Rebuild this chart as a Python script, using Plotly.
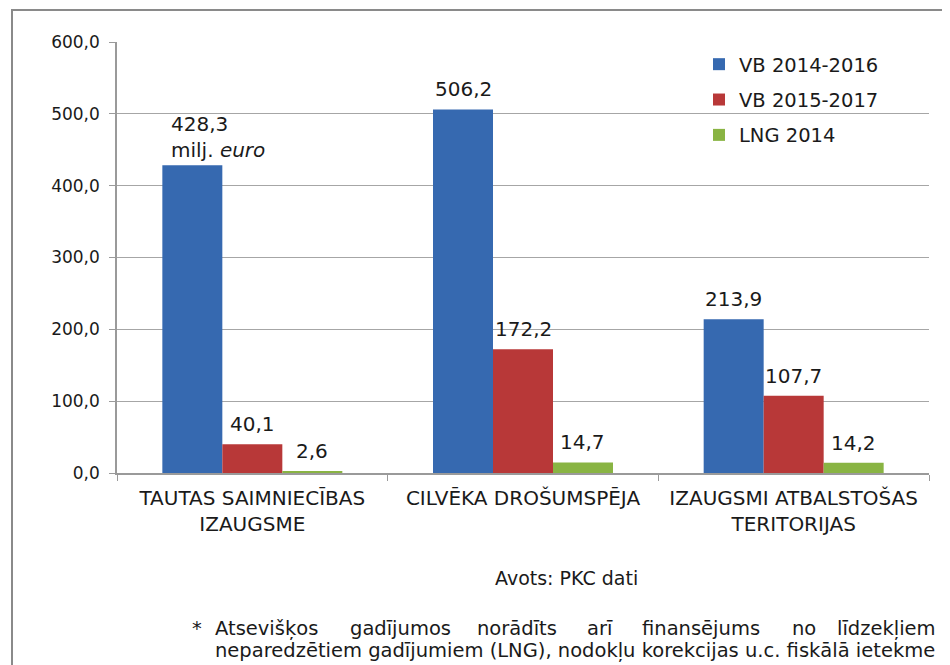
import plotly.graph_objects as go

categories = ["TAUTAS SAIMNIECĪBAS<br>IZAUGSME", "CILVĒKA DROŠUMSPĒJA", "IZAUGSMI ATBALSTOŠAS<br>TERITORIJAS"]
series_names = ["VB 2014-2016", "VB 2015-2017", "LNG 2014"]
vb_2014_2016 = [428.3, 506.2, 213.9]
vb_2015_2017 = [40.1, 172.2, 107.7]
lng_2014 = [2.6, 14.7, 14.2]
y_ticks = [0, 100, 200, 300, 400, 500, 600]
unit_text = "milj. <i>euro</i>"
source_text = "Avots: PKC dati"
note_line1 = ["Atsevišķos", "gadījumos", "norādīts", "arī", "finansējums", "no", "līdzekļiem"]
note_line2 = "neparedzētiem gadījumiem (LNG), nodokļu korekcijas u.c. fiskālā ietekme"

colors = ["#3669b0", "#b83838", "#89b443"]
series = [vb_2014_2016, vb_2015_2017, lng_2014]

OFF = 8  # page body margin
W, H = 942, 657
L, T = 117 - OFF, 42 - OFF
PR, PB = 929 - OFF, 473 - OFF
R, B = W - PR, H - PB
PW, PH = PR - L, PB - T
FONT = "DejaVu Sans"
TXT = "#1a1a1a"

def px(x):
    return (x - OFF - L) / PW

def py(y):
    return (PB - (y - OFF)) / PH

fig = go.Figure()
for i, (name, vals) in enumerate(zip(series_names, series)):
    fig.add_trace(go.Bar(
        x=categories, y=vals, name=name, marker_color=colors[i],
        marker_line_width=0, legendgroup=f"g{i}",
    ))

annotations = []
bar_px = PW / 3 * (1 - 0.335) / 3
for i, vals in enumerate(series):
    for j, v in enumerate(vals):
        shift = (i - 1) * bar_px
        txt = f"{v:.1f}".replace(".", ",")
        if i == 0 and j == 0:
            annotations.append(dict(x=categories[j], y=v, xref="x", yref="y",
                                    text=f"{txt}<br>{unit_text}", align="left",
                                    showarrow=False, xanchor="left", yanchor="bottom",
                                    xshift=shift - bar_px / 2 + 7, yshift=1,
                                    font=dict(family=FONT, size=20, color=TXT)))
        else:
            annotations.append(dict(x=categories[j], y=v, xref="x", yref="y", text=txt,
                                    showarrow=False, xanchor="center", yanchor="bottom",
                                    xshift=shift, yshift=6,
                                    font=dict(family=FONT, size=20, color=TXT)))

NOTE_FS = 19.5
annotations.append(dict(x=px(566), y=py(578), xref="paper", yref="paper", text=source_text,
                        showarrow=False, xanchor="center", yanchor="middle",
                        font=dict(family=FONT, size=19, color=TXT)))
annotations.append(dict(x=px(190), y=py(628), xref="paper", yref="paper", text="*",
                        showarrow=False, xanchor="left", yanchor="middle",
                        font=dict(family=FONT, size=NOTE_FS, color=TXT)))
word_x = [213, 348, 475, 585, 640, 790, 835]
for wx, w in zip(word_x, note_line1):
    annotations.append(dict(x=px(wx), y=py(628), xref="paper", yref="paper", text=w,
                            showarrow=False, xanchor="left", yanchor="middle",
                            font=dict(family=FONT, size=NOTE_FS, color=TXT)))
annotations.append(dict(x=px(213), y=py(650), xref="paper", yref="paper", text=note_line2,
                        showarrow=False, xanchor="left", yanchor="middle",
                        font=dict(family=FONT, size=NOTE_FS, color=TXT)))

fig.update_layout(
    width=W, height=H,
    margin=dict(l=L, r=R, t=T, b=B, autoexpand=False),
    paper_bgcolor="white", plot_bgcolor="white",
    barmode="group", bargap=0.335, bargroupgap=0,
    separators=",.",
    font=dict(family=FONT, color=TXT),
    showlegend=True,
    legend=dict(x=px(699), y=py(45), xanchor="left", yanchor="top",
                font=dict(family=FONT, size=19.5, color=TXT),
                tracegroupgap=7, bgcolor="rgba(0,0,0,0)", itemwidth=30),
    annotations=annotations,
    shapes=[dict(type="rect", xref="paper", yref="paper",
                 x0=px(12), x1=px(1000), y0=py(720), y1=py(10),
                 line=dict(color="#8a8a8a", width=2), fillcolor="rgba(0,0,0,0)", layer="below")],
)
fig.update_xaxes(
    tickson="boundaries", ticks="outside", ticklen=6, tickcolor="#9a9a9a",
    showline=True, linecolor="#9a9a9a", linewidth=1.5,
    tickfont=dict(family=FONT, size=20, color=TXT), ticklabelstandoff=6,
    showgrid=False,
)
fig.update_yaxes(
    range=[0, 600], tickvals=y_ticks, tickformat=".1f",
    ticks="outside", ticklen=6, tickcolor="#9a9a9a",
    showline=True, linecolor="#9a9a9a", linewidth=1.5,
    gridcolor="#a6a6a6", gridwidth=1.2,
    tickfont=dict(family=FONT, size=17, color=TXT), ticklabelstandoff=6,
    zeroline=False,
)

fig.write_html("out.html")
